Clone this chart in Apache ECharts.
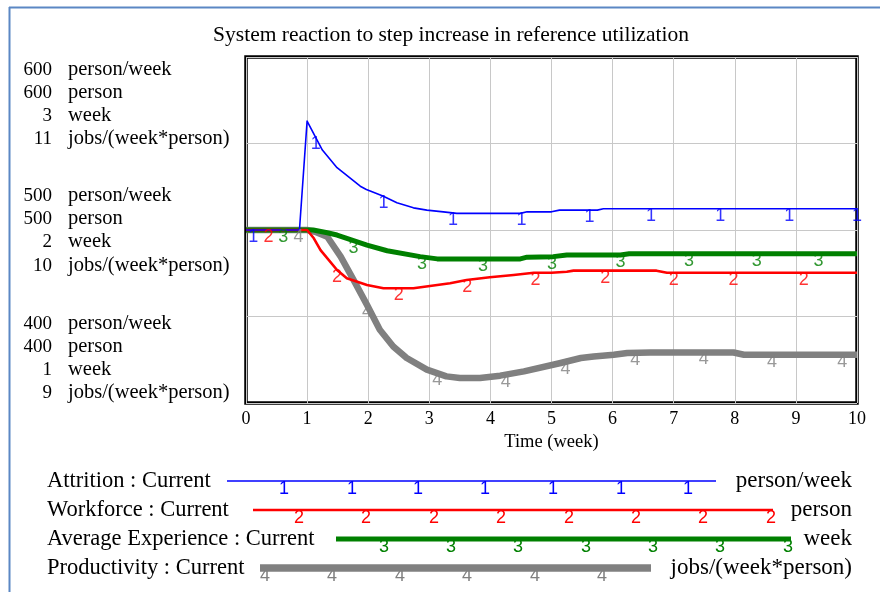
<!DOCTYPE html>
<html><head><meta charset="utf-8">
<script src="https://cdn.jsdelivr.net/npm/echarts@6/dist/echarts.min.js"></script>
<style>html,body{margin:0;padding:0;background:#fff}#c{width:880px;height:592px}</style>
</head><body><div id="c"></div>
<script>
const chartTitle = 'System reaction to step increase in reference utilization';
const xName = 'Time (week)';
const xMin = 0, xMax = 10;

// Attrition (person/week)
const attritionT = [0, 0.875, 1.0, 1.14, 1.25, 1.49, 1.87, 1.97, 2.24, 2.47, 2.74, 2.96, 3.23, 3.45, 4.49, 4.6, 5.0, 5.13, 5.75, 5.85, 10];
const attritionV = [500, 500, 563, 553.5, 546.2, 536, 525.3, 523.4, 519.6, 515.7, 512.8, 511.5, 510.5, 509.6, 509.6, 510.5, 510.5, 511.5, 511.5, 512.3, 512.3];
// Workforce (person)
const workforceT = [0, 1.0, 1.11, 1.22, 1.49, 1.65, 1.98, 2.25, 2.74, 3.01, 3.34, 3.61, 3.99, 4.38, 4.71, 5.0, 5.25, 5.36, 6.72, 6.89, 10];
const workforceV = [500, 500, 495.2, 488.4, 476.9, 472.1, 468.2, 466.3, 466.3, 467.6, 469.2, 471.1, 472.7, 474.0, 475.3, 475.3, 475.9, 476.5, 476.5, 475.3, 475.3];
// Average Experience (week)
const experienceT = [0, 1.1, 1.33, 1.49, 1.98, 2.31, 2.85, 3.13, 4.49, 4.6, 5.03, 5.25, 6.13, 6.27, 10];
const experienceV = [2.0, 2.0, 1.984, 1.971, 1.913, 1.880, 1.846, 1.833, 1.833, 1.843, 1.846, 1.856, 1.856, 1.863, 1.863];
// Productivity (jobs/(week*person))
const productivityT = [0, 1.0, 1.13, 1.33, 1.55, 1.76, 1.98, 2.19, 2.41, 2.63, 2.96, 3.28, 3.5, 3.83, 4.16, 4.55, 5.15, 5.48, 5.69, 6.02, 6.24, 6.62, 7.98, 8.15, 10];
const productivityV = [10, 10, 9.99, 9.961, 9.846, 9.712, 9.567, 9.423, 9.327, 9.260, 9.193, 9.154, 9.145, 9.145, 9.158, 9.183, 9.231, 9.26, 9.269, 9.279, 9.289, 9.292, 9.292, 9.279, 9.279];

// number markers along the curves (time positions)
const attritionMarkT = [0.12, 1.14, 2.25, 3.39, 4.51, 5.62, 6.63, 7.76, 8.89, 10.0];
const workforceMarkT = [0.37, 1.49, 2.5, 3.62, 4.74, 5.88, 7.0, 7.98, 9.13];
const experienceMarkT = [0.61, 1.76, 2.88, 3.88, 5.01, 6.13, 7.25, 8.36, 9.37];
const productivityMarkT = [0.86, 1.98, 3.13, 4.25, 5.23, 6.37, 7.49, 8.61, 9.76];

// scale tick labels (top, middle, bottom)
const attritionTicks = [600, 500, 400];
const workforceTicks = [600, 500, 400];
const experienceTicks = [3, 2, 1];
const productivityTicks = [11, 10, 9];
const unitNames = ['person/week', 'person', 'week', 'jobs/(week*person)'];
const legendNames = ['Attrition : Current', 'Workforce : Current', 'Average Experience : Current', 'Productivity : Current'];
const markDigits = ['1', '2', '3', '4'];

const colors = ['#0000ff', '#ff0000', '#008000', '#808080'];
const widths = [1.6, 2.6, 5, 6.5];
const SERIF = '"Liberation Serif", "Times New Roman", serif';
const SANS = '"Liberation Sans", Arial, sans-serif';

function pairs(t, v) { return t.map((x, i) => [x, v[i]]); }
function interp(t, v, x) {
  for (let i = 1; i < t.length; i++) {
    if (x <= t[i]) { const f = (x - t[i-1]) / (t[i] - t[i-1]); return v[i-1] + f * (v[i] - v[i-1]); }
  }
  return v[v.length - 1];
}

const lines = [
  {t: attritionT, v: attritionV, m: attritionMarkT, ax: 0},
  {t: workforceT, v: workforceV, m: workforceMarkT, ax: 0},
  {t: experienceT, v: experienceV, m: experienceMarkT, ax: 1},
  {t: productivityT, v: productivityV, m: productivityMarkT, ax: 2}
];

const series = [];
// draw gray first, blue last
for (let k = 3; k >= 0; k--) {
  const L = lines[k];
  series.push({
    type: 'line', yAxisIndex: L.ax, data: pairs(L.t, L.v), symbol: 'none', smooth: false,
    lineStyle: {color: colors[k], width: widths[k], cap: 'butt', join: 'round'}, z: 2 + (3 - k), silent: true
  });
}
for (let k = 3; k >= 0; k--) {
  const L = lines[k];
  series.push({
    type: 'scatter', yAxisIndex: L.ax, symbol: 'rect', symbolSize: 1, itemStyle: {color: 'rgba(0,0,0,0)'},
    data: L.m.map(x => [x, interp(L.t, L.v, x)]), silent: true, z: 10,
    label: {show: true, position: 'inside', offset: [0, 7], formatter: markDigits[k], color: colors[k],
            fontSize: 18, fontFamily: SANS}
  });
}

const chart = echarts.init(document.getElementById('c'), null, {renderer: 'canvas'});

// legend graphics
const legendRows = [
  {y: 481, lx1: 227, lx2: 716, marks: [284, 352, 418, 485, 553, 621, 688]},
  {y: 510, lx1: 253, lx2: 773, marks: [299, 366, 434, 501, 569, 636, 703, 771]},
  {y: 539, lx1: 336, lx2: 791, marks: [384, 451, 518, 586, 653, 720, 788]},
  {y: 568, lx1: 260, lx2: 651, marks: [265, 332, 400, 467, 535, 602]}
];
const graphics = [
  {type: 'line', shape: {x1: 9, y1: 7.5, x2: 880, y2: 7.5}, style: {stroke: '#5b87c4', lineWidth: 2}, silent: true},
  {type: 'line', shape: {x1: 9.5, y1: 7, x2: 9.5, y2: 592}, style: {stroke: '#5b87c4', lineWidth: 2}, silent: true}
];
legendRows.forEach((r, k) => {
  graphics.push({type: 'text', x: 47, y: r.y, style: {text: legendNames[k], font: '22.5px ' + SERIF, fill: '#000', textAlign: 'left', textVerticalAlign: 'middle'}, silent: true});
  graphics.push({type: 'line', shape: {x1: r.lx1, y1: r.y, x2: r.lx2, y2: r.y}, style: {stroke: colors[k], lineWidth: widths[k] + (k === 3 ? 1 : 0)}, silent: true});
  r.marks.forEach(mx => graphics.push({type: 'text', x: mx, y: r.y + 8, style: {text: markDigits[k], font: '18px ' + SANS, fill: colors[k], textAlign: 'center', textVerticalAlign: 'middle'}, silent: true}));
  graphics.push({type: 'text', x: 852, y: r.y, style: {text: unitNames[k], font: '23px ' + SERIF, fill: '#000', textAlign: 'right', textVerticalAlign: 'middle'}, silent: true});
});

chart.setOption({
  animation: false,
  backgroundColor: '#fff',
  title: {text: chartTitle, left: 446, top: 19, textAlign: 'center',
          textStyle: {fontFamily: SERIF, fontSize: 21.5, fontWeight: 'normal', color: '#000'}},
  grid: {left: 246, top: 57, width: 611, height: 346, show: true, borderColor: '#000', borderWidth: 3.5, backgroundColor: 'transparent'},
  xAxis: {type: 'value', min: xMin, max: xMax, interval: 1, name: xName, nameLocation: 'middle', nameGap: 30,
          nameTextStyle: {fontFamily: SERIF, fontSize: 18.5, color: '#000'},
          axisLine: {show: false}, axisTick: {show: false},
          axisLabel: {fontFamily: SERIF, fontSize: 18, color: '#000', margin: 7},
          splitLine: {show: true, lineStyle: {color: '#c8c8c8', width: 1}}},
  yAxis: [
    {type: 'value', min: 400, max: 600, interval: 50, axisLine: {show: false}, axisTick: {show: false}, axisLabel: {show: false},
     splitLine: {show: true, lineStyle: {color: '#c8c8c8', width: 1}}},
    {type: 'value', min: 1, max: 3, interval: 0.5, show: false, splitLine: {show: false}},
    {type: 'value', min: 9, max: 11, interval: 0.5, show: false, splitLine: {show: false}}
  ],
  series: series,
  graphic: graphics
});

// left scale labels derived from axis positions
const groupOffsets = [[13, 36, 59, 82], [-34, -11, 12, 36], [-79, -56, -33, -10]];
const tickSets = [attritionTicks, workforceTicks, experienceTicks, productivityTicks];
for (let g = 0; g < 3; g++) {
  const py = chart.convertToPixel({yAxisIndex: 0}, attritionTicks[g]);
  for (let s = 0; s < 4; s++) {
    const yy = py + groupOffsets[g][s];
    graphics.push({type: 'text', x: 52, y: yy, style: {text: String(tickSets[s][g]), font: '19px ' + SERIF, fill: '#000', textAlign: 'right', textVerticalAlign: 'middle'}, silent: true});
    graphics.push({type: 'text', x: 68, y: yy, style: {text: unitNames[s], font: '20.5px ' + SERIF, fill: '#000', textAlign: 'left', textVerticalAlign: 'middle'}, silent: true});
  }
}
chart.setOption({graphic: graphics});
</script></body></html>
